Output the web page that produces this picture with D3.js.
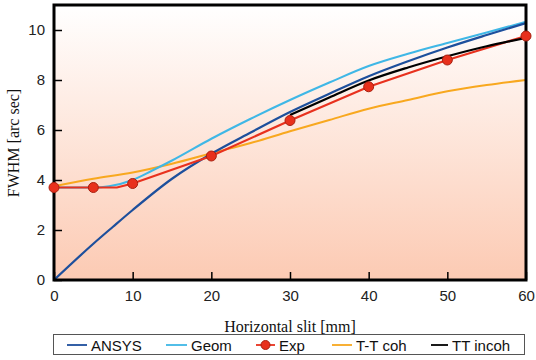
<!DOCTYPE html>
<html><head><meta charset="utf-8">
<script src="https://cdn.jsdelivr.net/npm/d3@7"></script>
<style>body{margin:0;background:#fff}svg{display:block}</style>
</head><body>
<svg id="c" width="536" height="360"></svg>
<script>
const xTicks = [0,10,20,30,40,50,60];
const yTicks = [0,2,4,6,8,10];
const ansysX = [0,5,7.5,10,15,20,25,30,35,40,45,50,55,60];
const ansysY = [0,1.45,2.13,2.8,4.05,5.05,5.9,6.72,7.45,8.15,8.75,9.3,9.8,10.28];
const geomX = [0,5,7,10,12.5,15,20,25,30,35,40,45,50,55,60];
const geomY = [3.7,3.7,3.75,4.0,4.38,4.78,5.65,6.45,7.2,7.9,8.56,9.05,9.48,9.9,10.33];
const expX = [0,5,8,10,20,30,40,50,60];
const expY = [3.7,3.7,3.7,3.86,4.96,6.38,7.73,8.8,9.76];
const expMarkX = [0,5,10,20,30,40,50,60];
const expMarkY = [3.7,3.7,3.86,4.96,6.38,7.73,8.8,9.76];
const ttcohX = [0,5,10,15,20,25,30,35,40,45,50,55,60];
const ttcohY = [3.75,4.05,4.3,4.65,5.07,5.48,5.95,6.4,6.85,7.2,7.55,7.8,8.0];
const ttincX = [30,35,40,45,50,55,60];
const ttincY = [6.6,7.3,7.98,8.5,8.95,9.35,9.68];
const legendNames = ["ANSYS","Geom","Exp","T-T coh","TT incoh"];
const colors = ["#1d4f9c","#3fb7e6","#e8311e","#f8a81f","#000000"];

const svg = d3.select("#c");
const L=54, R=526, T=5, B=280;
const x = d3.scaleLinear().domain([0,60]).range([L,R]);
const y = d3.scaleLinear().domain([0,11]).range([B,T]);

const defs = svg.append("defs");
const g = defs.append("linearGradient").attr("id","bg").attr("x1",0).attr("y1",0).attr("x2",0).attr("y2",1);
g.append("stop").attr("offset","0%").attr("stop-color","#ffffff");
g.append("stop").attr("offset","100%").attr("stop-color","#fccab3");
defs.append("clipPath").attr("id","clip").append("rect").attr("x",L).attr("y",T).attr("width",R-L).attr("height",B-T);

svg.append("rect").attr("x",L).attr("y",T).attr("width",R-L).attr("height",B-T).attr("fill","url(#bg)");

const ax = svg.append("g").attr("transform",`translate(0,${B})`)
  .call(d3.axisBottom(x).tickValues(xTicks).tickSizeInner(-8).tickSizeOuter(0).tickPadding(10).tickFormat(d3.format("d")));
const ay = svg.append("g").attr("transform",`translate(${L},0)`)
  .call(d3.axisLeft(y).tickValues(yTicks).tickSizeInner(-8).tickSizeOuter(0).tickPadding(9).tickFormat(d3.format("d")));
[ax,ay].forEach(a=>{
  a.select(".domain").remove();
  a.selectAll("line").attr("stroke","#000").attr("stroke-width",1.5);
  a.selectAll("text").attr("font-family","Liberation Sans, Arial, sans-serif").attr("font-size",15).attr("fill","#222");
});

const curve = d3.line().curve(d3.curveMonotoneX);
const straight = d3.line();
function series(xs, ys, color, w, gen){
  svg.append("path").attr("clip-path","url(#clip)")
    .attr("d", (gen||curve)(xs.map((v,i)=>[x(v), y(ys[i])])))
    .attr("fill","none").attr("stroke",color).attr("stroke-width",w);
}
series(ttcohX, ttcohY, colors[3], 2);
series(geomX, geomY, colors[1], 2);
series(ansysX, ansysY, colors[0], 2.2);
series(expX, expY, colors[2], 2.2, straight);
series(ttincX, ttincY, colors[4], 2.2);

svg.append("rect").attr("x",L).attr("y",T).attr("width",R-L).attr("height",B-T)
  .attr("fill","none").attr("stroke","#000").attr("stroke-width",3);

svg.append("g").selectAll("circle").data(expMarkX).join("circle")
  .attr("cx",d=>x(d)).attr("cy",(d,i)=>y(expMarkY[i])).attr("r",5)
  .attr("fill","#e8301c").attr("stroke","#a82010").attr("stroke-width",1);

svg.append("text").attr("x",290).attr("y",332).attr("text-anchor","middle")
  .attr("font-family","Liberation Serif, Times New Roman, serif").attr("font-size",16).attr("fill","#111")
  .text("Horizontal slit [mm]");
svg.append("text").attr("transform","translate(19,143) rotate(-90)").attr("text-anchor","middle")
  .attr("font-family","Liberation Serif, Times New Roman, serif").attr("font-size",16).attr("fill","#111")
  .text("FWHM  [arc sec]");

svg.append("rect").attr("x",53.5).attr("y",334.5).attr("width",471).attr("height",20)
  .attr("fill","#fff").attr("stroke","#555").attr("stroke-width",1);
const lx = [67,166,256,332,431];
const lw = [20,21,19,20,17];
const lg = svg.append("g");
legendNames.forEach((n,i)=>{
  lg.append("line").attr("x1",lx[i]).attr("x2",lx[i]+lw[i]).attr("y1",345).attr("y2",345)
    .attr("stroke",colors[i]).attr("stroke-width",1.8);
  if(i===2) lg.append("circle").attr("cx",lx[i]+lw[i]/2).attr("cy",345).attr("r",4.5)
    .attr("fill","#e8301c").attr("stroke","#a82010");
  lg.append("text").attr("x",lx[i]+lw[i]+4).attr("y",351)
    .attr("font-family","Liberation Sans, Arial, sans-serif").attr("font-size",15).attr("fill","#111").text(n);
});
</script>
</body></html>
